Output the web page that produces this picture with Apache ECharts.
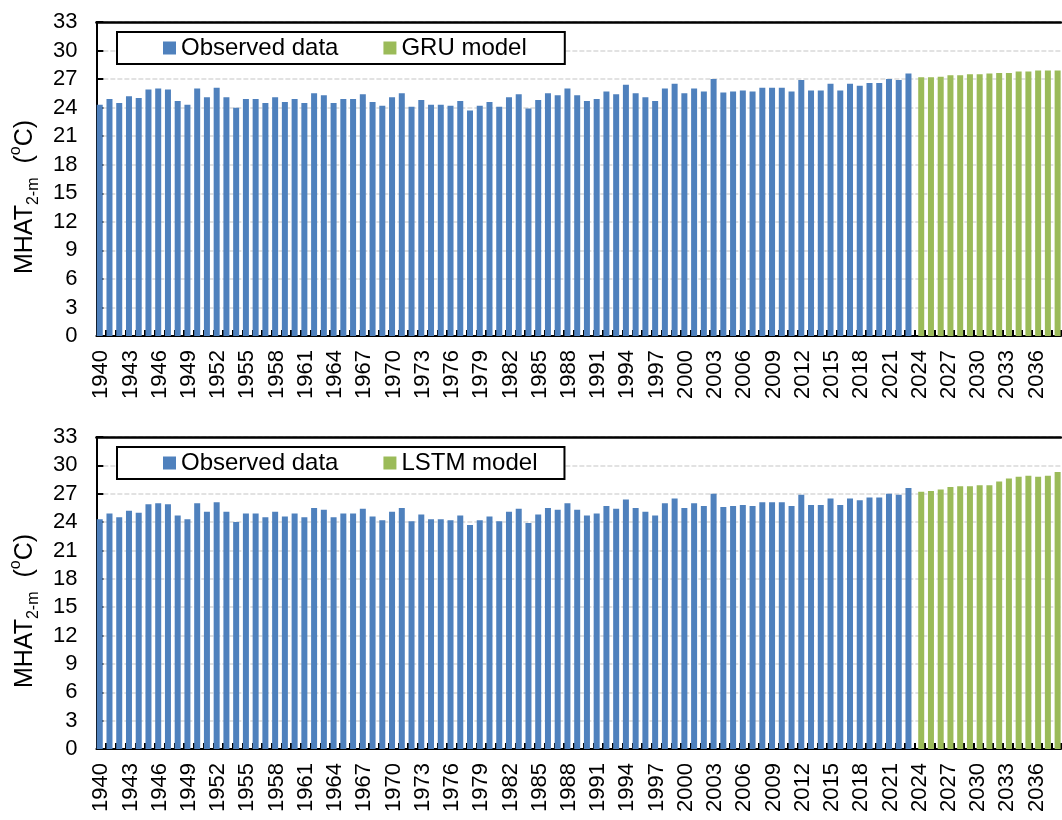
<!DOCTYPE html>
<html>
<head>
<meta charset="utf-8">
<script src="https://cdn.jsdelivr.net/npm/echarts@6/dist/echarts.min.js"></script>
<style>
html,body{margin:0;padding:0;background:#fff;}
#chart{width:1062px;height:820px;}
</style>
</head>
<body>
<div id="chart"></div>
<script>
const years = ['1940','1941','1942','1943','1944','1945','1946','1947','1948','1949',
'1950','1951','1952','1953','1954','1955','1956','1957','1958','1959',
'1960','1961','1962','1963','1964','1965','1966','1967','1968','1969',
'1970','1971','1972','1973','1974','1975','1976','1977','1978','1979',
'1980','1981','1982','1983','1984','1985','1986','1987','1988','1989',
'1990','1991','1992','1993','1994','1995','1996','1997','1998','1999',
'2000','2001','2002','2003','2004','2005','2006','2007','2008','2009',
'2010','2011','2012','2013','2014','2015','2016','2017','2018','2019',
'2020','2021','2022','2023','2024','2025','2026','2027','2028','2029',
'2030','2031','2032','2033','2034','2035','2036','2037','2038'];

// Observed 1940-2023
const observed = [24.3,24.9,24.5,25.2,25.0,25.9,26.0,25.9,24.7,24.3,
26.0,25.1,26.1,25.1,24.0,24.9,24.9,24.5,25.1,24.6,
24.9,24.5,25.5,25.3,24.5,24.9,24.9,25.4,24.6,24.2,
25.1,25.5,24.1,24.8,24.3,24.3,24.2,24.7,23.7,24.2,
24.6,24.1,25.1,25.4,23.9,24.8,25.5,25.3,26.0,25.3,
24.7,24.9,25.7,25.4,26.4,25.5,25.1,24.7,26.0,26.5,
25.5,26.0,25.7,27.0,25.6,25.7,25.8,25.7,26.1,26.1,
26.1,25.7,26.9,25.8,25.8,26.5,25.8,26.5,26.3,26.6,
26.6,27.0,26.9,27.6];

// Forecasts 2024-2038
const gruForecast = [27.2,27.2,27.25,27.4,27.4,27.5,27.5,27.6,27.65,27.65,27.8,27.8,27.9,27.9,27.9];
const lstmForecast = [27.2,27.3,27.45,27.7,27.8,27.8,27.9,27.9,28.3,28.6,28.8,28.9,28.8,28.9,29.3];

const yTicks = {min:0, max:33, interval:3};

const obsData = years.map((y,i)=> i < observed.length ? observed[i] : null);
const gruData = years.map((y,i)=> i >= observed.length ? gruForecast[i-observed.length] : null);
const lstmData = years.map((y,i)=> i >= observed.length ? lstmForecast[i-observed.length] : null);

const FONT = "'Liberation Sans', Arial, sans-serif";
const BLUE = '#4F81BD', GREEN = '#9BBB59';

const grids = [
  {left:93, right:1, top:22, height:314},
  {left:93, right:1, top:437, height:312}
];

function xAxisBottom(gi){
  return {
    type:'category', gridIndex:gi, data:years, position:'bottom',
    boundaryGap:true,
    axisLine:{show:true, lineStyle:{color:'#000', width:2}},
    axisTick:{show:true, inside:true, interval:0, length:6, lineStyle:{color:'#000', width:2}},
    axisLabel:{interval:2, rotate:90, fontSize:22, color:'#000', fontFamily:FONT, margin:14},
    splitLine:{show:false}
  };
}
function xAxisTop(gi){
  return {
    type:'category', gridIndex:gi, data:years, position:'top',
    axisLine:{show:true, lineStyle:{color:'#000', width:2.5}},
    axisTick:{show:false}, axisLabel:{show:false}, splitLine:{show:false}
  };
}
function yAxis(gi){
  return {
    type:'value', gridIndex:gi, min:yTicks.min, max:yTicks.max, interval:yTicks.interval,
    axisLine:{show:true, lineStyle:{color:'#000', width:2}},
    axisTick:{show:true, inside:true, length:7, lineStyle:{color:'#000', width:2}},
    axisLabel:{fontSize:22, color:'#000', fontFamily:FONT, margin:19},
    splitLine:{show:true, lineStyle:{color:'#D9D9D9', width:1.5, type:[5,2]}},
    name:'MHAT{sub|2-m}  ({sup|o}C)',
    nameLocation:'middle', nameGap:53,
    nameTextStyle:{fontSize:25, color:'#000', fontFamily:FONT, lineHeight:34,
      padding:[0, 36, 0, 0],
      rich:{
        sub:{fontSize:16, color:'#000', fontFamily:FONT, verticalAlign:'bottom', lineHeight:18},
        sup:{fontSize:16, color:'#000', fontFamily:FONT, verticalAlign:'top', lineHeight:18}
      }}
  };
}
function legend(gi, modelName, topPx, rightPad){
  return {
    show:true, left:117, top:topPx, orient:'horizontal',
    data:[{name:'Observed data'},{name:modelName}],
    icon:'rect', itemWidth:13, itemHeight:13, itemGap:45,
    textStyle:{fontSize:24, color:'#000', fontFamily:FONT},
    backgroundColor:'#fff', borderColor:'#000', borderWidth:2,
    padding:[4, rightPad, 4, 46]
  };
}
function barSeries(name, data, color, gi){
  return {
    name, type:'bar', data, xAxisIndex:gi*2, yAxisIndex:gi,
    barWidth:6, barGap:'-50%',
    itemStyle:{color},
    emphasis:{disabled:true}
  };
}

const chart = echarts.init(document.getElementById('chart'), null, {renderer:'canvas'});
chart.setOption({
  animation:false,
  backgroundColor:'#fff',
  textStyle:{fontFamily:FONT},
  grid:grids,
  xAxis:[xAxisBottom(0), xAxisTop(0), xAxisBottom(1), xAxisTop(1)],
  yAxis:[yAxis(0), yAxis(1)],
  legend:[legend(0,'GRU model',32,38), legend(1,'LSTM model',447,27)],
  series:[
    barSeries('Observed data', obsData, BLUE, 0),
    barSeries('GRU model', gruData, GREEN, 0),
    barSeries('Observed data', obsData, BLUE, 1),
    barSeries('LSTM model', lstmData, GREEN, 1)
  ]
});
</script>
</body>
</html>
